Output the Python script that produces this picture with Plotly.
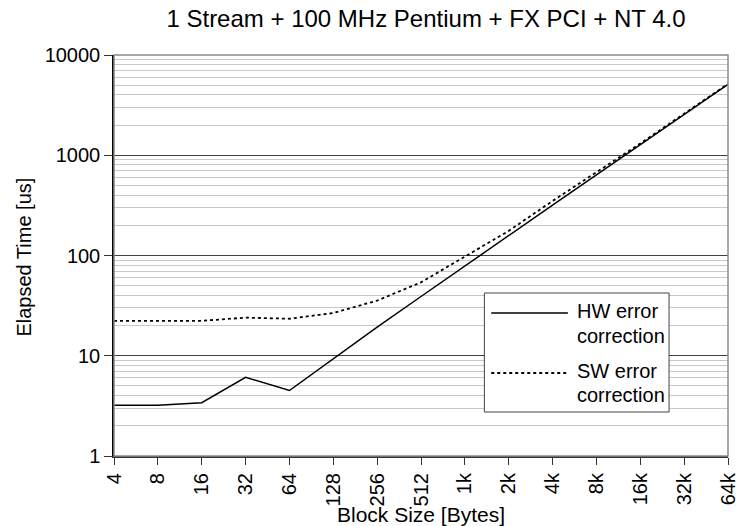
import plotly.graph_objects as go

# Block sizes on the category axis
block_sizes = ["4", "8", "16", "32", "64", "128", "256", "512",
               "1k", "2k", "4k", "8k", "16k", "32k", "64k"]

# Elapsed time per transfer, microseconds
hw_correction = [3.2, 3.2, 3.4, 6.1, 4.5, 9.4, 19.3, 39, 79, 158, 318, 638, 1280, 2560, 5100]
sw_correction = [22.3, 22.3, 22.3, 24.0, 23.4, 26.7, 35.5, 54, 97, 176, 350, 680, 1310, 2600, 5150]

y_ticks = [1, 10, 100, 1000, 10000]

W, H = 747, 526
L, R, T, B = 114, 739, 55, 456  # plot area in pixels

FONT = "Liberation Sans, Arial, sans-serif"


def px(x):
    return (x - L) / (R - L)


def py(y):
    return (B - y) / (B - T)


fig = go.Figure()
fig.add_trace(go.Scatter(
    x=block_sizes, y=hw_correction, mode="lines", name="HW error correction",
    line=dict(color="black", width=1.5), showlegend=False))
fig.add_trace(go.Scatter(
    x=block_sizes, y=sw_correction, mode="lines", name="SW error correction",
    line=dict(color="black", width=1.8, dash="3px,3px"), showlegend=False))

shapes = []
# plot frame
shapes.append(dict(type="rect", xref="paper", yref="paper", x0=0, x1=1, y0=0, y1=1,
                   line=dict(color="#8a8a8a", width=1.5), layer="above"))
# legend box
lx0, lx1, ly0, ly1 = 491, 679, 293, 412
shapes.append(dict(type="rect", xref="paper", yref="paper",
                   x0=px(lx0), x1=px(lx1), y0=py(ly1), y1=py(ly0),
                   fillcolor="white", line=dict(color="#444", width=1), layer="above"))
shapes.append(dict(type="line", xref="paper", yref="paper",
                   x0=px(498), x1=px(576), y0=py(313), y1=py(313),
                   line=dict(color="black", width=1.5), layer="above"))
shapes.append(dict(type="line", xref="paper", yref="paper",
                   x0=px(498), x1=px(576), y0=py(373), y1=py(373),
                   line=dict(color="black", width=1.8, dash="3px,3px"), layer="above"))

annotations = []
for text, yy in [("HW error", 311), ("correction", 336), ("SW error", 371), ("correction", 395)]:
    annotations.append(dict(text=text, xref="paper", yref="paper", x=px(583), y=py(yy),
                            xanchor="left", yanchor="middle", showarrow=False,
                            font=dict(family=FONT, size=20, color="black")))
# axis titles
annotations.append(dict(text="Block Size [Bytes]", xref="paper", yref="paper",
                        x=px(426), y=py(514), xanchor="center", yanchor="middle",
                        showarrow=False, font=dict(family=FONT, size=21, color="black")))
annotations.append(dict(text="Elapsed Time [us]", xref="paper", yref="paper",
                        x=px(22), y=py(257), xanchor="center", yanchor="middle", textangle=-90,
                        showarrow=False, font=dict(family=FONT, size=20, color="black")))

fig.update_layout(
    width=W, height=H,
    margin=dict(l=L, r=W - R, t=T, b=H - B, pad=0),
    paper_bgcolor="white", plot_bgcolor="white",
    title=dict(text="1 Stream + 100 MHz Pentium + FX PCI + NT 4.0",
               x=(L + 426 - L) / W, xanchor="center",
               y=1 - 19 / H, yanchor="middle",
               font=dict(family=FONT, size=24, color="black")),
    shapes=shapes, annotations=annotations,
    font=dict(family=FONT, color="black"),
)

fig.update_xaxes(
    type="category", range=[0, len(block_sizes) - 1],
    showgrid=False, zeroline=False,
    showline=True, linecolor="#333", linewidth=2,
    ticks="outside", ticklen=7, tickcolor="#333", tickwidth=1,
    tickangle=-90, tickfont=dict(family=FONT, size=20, color="black"),
)
fig.update_yaxes(
    type="log", range=[0, 4],
    tickvals=y_ticks, ticktext=[str(v) for v in y_ticks],
    showgrid=True, gridcolor="#404040", gridwidth=1,
    minor=dict(dtick="D1", showgrid=True, gridcolor="#c8c8c8", gridwidth=1, ticks=""),
    zeroline=False,
    showline=True, linecolor="black", linewidth=1.5,
    ticks="outside", ticklen=8, tickcolor="#333", tickwidth=1,
    tickfont=dict(family=FONT, size=20, color="black"),
)

fig.write_html("out.html")
